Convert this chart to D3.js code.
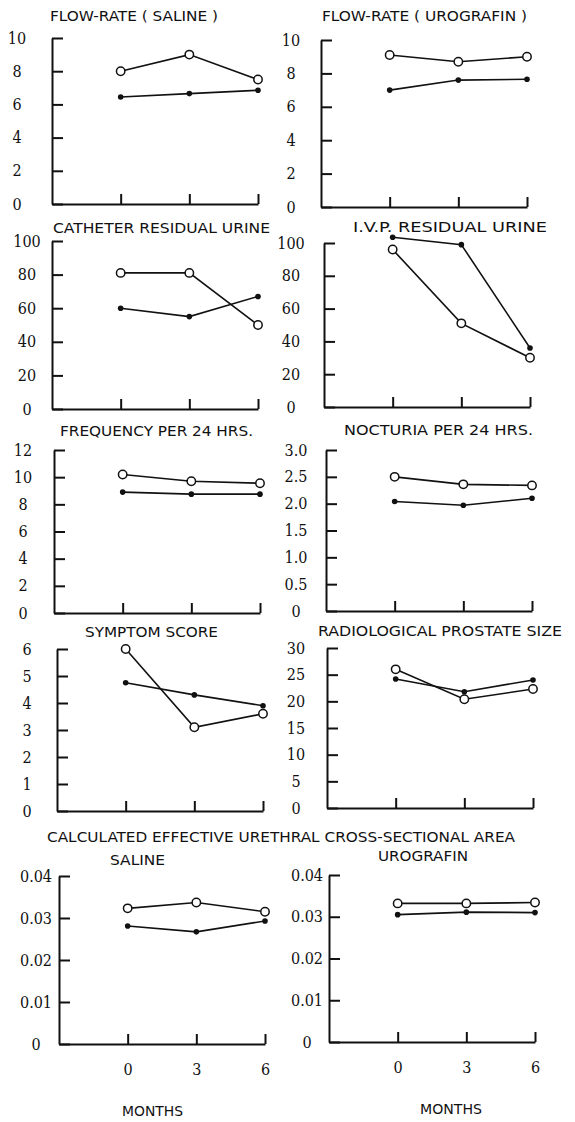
<!DOCTYPE html>
<html>
<head>
<meta charset="utf-8">
<script src="https://cdn.jsdelivr.net/npm/d3@7"></script>
<style>
body { margin:0; background:#fff; }
svg { display:block; }
.title { font-family:"DejaVu Sans Condensed","DejaVu Sans",sans-serif; font-size:14px; fill:#111; }
.months { font-family:"DejaVu Sans Condensed","DejaVu Sans",sans-serif; font-size:14px; fill:#111; }
.axis path, .axis line { stroke:#111; stroke-width:2; fill:none; }
.axis text { font-family:"DejaVu Serif Condensed","DejaVu Serif",serif; font-size:16px; fill:#111; }
.series { fill:none; stroke:#111; stroke-width:1.6; }
</style>
</head>
<body>
<svg id="chart" width="575" height="1122"></svg>
<script>
var months = [0, 3, 6];

// open circles / filled dots, one pair per panel
var flowSalineOpen    = [8.0, 9.0, 7.5];
var flowSalineFilled  = [6.45, 6.65, 6.85];
var flowUroOpen       = [9.1, 8.7, 9.0];
var flowUroFilled     = [7.0, 7.6, 7.65];
var catheterOpen      = [81, 81, 50];
var catheterFilled    = [60, 55, 67];
var ivpOpen           = [96, 51, 30];
var ivpFilled         = [103.5, 99, 36];
var frequencyOpen     = [10.2, 9.7, 9.55];
var frequencyFilled   = [8.9, 8.75, 8.75];
var nocturiaOpen      = [2.5, 2.36, 2.34];
var nocturiaFilled    = [2.04, 1.97, 2.1];
var symptomOpen       = [6.0, 3.1, 3.6];
var symptomFilled     = [4.75, 4.3, 3.9];
var prostateOpen      = [26, 20.4, 22.3];
var prostateFilled    = [24.2, 21.8, 24];
var areaSalineOpen    = [0.0323, 0.0337, 0.0315];
var areaSalineFilled  = [0.0281, 0.0267, 0.0293];
var areaUroOpen       = [0.0332, 0.0332, 0.0334];
var areaUroFilled     = [0.0305, 0.0311, 0.031];

// y tick values and their printed labels
var flowTicks       = [0, 2, 4, 6, 8, 10];
var flowLabels      = ["0", "2", "4", "6", "8", "10"];
var residualTicks   = [0, 20, 40, 60, 80, 100];
var residualLabels  = ["0", "20", "40", "60", "80", "100"];
var frequencyTicks  = [0, 2, 4, 6, 8, 10, 12];
var frequencyLabels = ["0", "2", "4", "6", "8", "10", "12"];
var nocturiaTicks   = [0, 0.5, 1, 1.5, 2, 2.5, 3];
var nocturiaLabels  = ["0", "0.5", "1.0", "1.5", "2.0", "2.5", "3.0"];
var symptomTicks    = [0, 1, 2, 3, 4, 5, 6];
var symptomLabels   = ["0", "1", "2", "3", "4", "5", "6"];
var prostateTicks   = [0, 5, 10, 15, 20, 25, 30];
var prostateLabels  = ["0", "5", "10", "15", "20", "25", "30"];
var areaTicks       = [0, 0.01, 0.02, 0.03, 0.04];
var areaLabels      = ["0", "0.01", "0.02", "0.03", "0.04"];

var titles = ["FLOW-RATE ( SALINE )", "FLOW-RATE ( UROGRAFIN )",
              "CATHETER RESIDUAL URINE", "I.V.P. RESIDUAL URINE",
              "FREQUENCY PER 24 HRS.", "NOCTURIA PER 24 HRS.",
              "SYMPTOM SCORE", "RADIOLOGICAL PROSTATE SIZE",
              "CALCULATED EFFECTIVE URETHRAL CROSS-SECTIONAL AREA",
              "SALINE", "UROGRAFIN"];
var xLabel = "MONTHS";

var panels = [
  {open:flowSalineOpen, filled:flowSalineFilled, ticks:flowTicks,      labels:flowLabels},
  {open:flowUroOpen,    filled:flowUroFilled,    ticks:flowTicks,      labels:flowLabels},
  {open:catheterOpen,   filled:catheterFilled,   ticks:residualTicks,  labels:residualLabels},
  {open:ivpOpen,        filled:ivpFilled,        ticks:residualTicks,  labels:residualLabels},
  {open:frequencyOpen,  filled:frequencyFilled,  ticks:frequencyTicks, labels:frequencyLabels},
  {open:nocturiaOpen,   filled:nocturiaFilled,   ticks:nocturiaTicks,  labels:nocturiaLabels},
  {open:symptomOpen,    filled:symptomFilled,    ticks:symptomTicks,   labels:symptomLabels},
  {open:prostateOpen,   filled:prostateFilled,   ticks:prostateTicks,  labels:prostateLabels},
  {open:areaSalineOpen, filled:areaSalineFilled, ticks:areaTicks,      labels:areaLabels},
  {open:areaUroOpen,    filled:areaUroFilled,    ticks:areaTicks,      labels:areaLabels}
];

// where each small plot sits on the page
var layout = [
  {x:52,  top:38,  bottom:204,  labelDx:35},
  {x:321, top:40,  bottom:207,  labelDx:30},
  {x:52,  top:241, bottom:409,  labelDx:25},
  {x:324, top:243, bottom:407,  labelDx:33},
  {x:54,  top:450, bottom:613,  labelDx:31},
  {x:326, top:450, bottom:611,  labelDx:30},
  {x:57,  top:649, bottom:811,  labelDx:30},
  {x:327, top:648, bottom:808,  labelDx:31},
  {x:59,  top:876, bottom:1044, labelDx:23},
  {x:329, top:875, bottom:1042, labelDx:22}
];
var plotWidth = 206;

var titleLayout = [
  {x:50,  y:21,  w:168}, {x:322, y:21,  w:205},
  {x:53,  y:233, w:217}, {x:353, y:232, w:194},
  {x:60,  y:436, w:193}, {x:344, y:435, w:189},
  {x:85,  y:637, w:133}, {x:318, y:636, w:244},
  {x:47,  y:842, w:468},
  {x:110, y:865, w:55},  {x:378, y:861, w:90}
];
var monthsLayout = [{x:122, y:1116, w:61}, {x:420, y:1114, w:62}];

var svg = d3.select("#chart");

titles.forEach(function(t, i) {
  var p = titleLayout[i];
  svg.append("text").attr("class", "title")
     .attr("x", p.x).attr("y", p.y)
     .attr("textLength", p.w).attr("lengthAdjust", "spacingAndGlyphs")
     .text(t);
});

monthsLayout.forEach(function(p) {
  svg.append("text").attr("class", "months")
     .attr("x", p.x).attr("y", p.y)
     .attr("textLength", p.w).attr("lengthAdjust", "spacingAndGlyphs")
     .text(xLabel);
});

panels.forEach(function(panel, i) {
  var L = layout[i];
  var maxY = panel.ticks[panel.ticks.length - 1];

  var x = d3.scaleLinear().domain([-3, 6]).range([L.x, L.x + plotWidth]);
  var y = d3.scaleLinear().domain([0, maxY]).range([L.bottom, L.top]);

  var bottomRow = i >= 8;

  var xAxis = d3.axisBottom(x).tickValues(months).tickSize(-10).tickSizeOuter(0)
                .tickPadding(20)
                .tickFormat(bottomRow ? function(d){ return d; } : "");
  var yAxis = d3.axisLeft(y).tickValues(panel.ticks).tickSize(-11).tickSizeOuter(0)
                .tickFormat(function(d, k){ return panel.labels[k]; });

  svg.append("g").attr("class", "axis")
     .attr("transform", "translate(0," + L.bottom + ")").call(xAxis);

  var gy = svg.append("g").attr("class", "axis")
     .attr("transform", "translate(" + L.x + ",0)").call(yAxis);
  gy.selectAll("text").attr("x", -L.labelDx).attr("text-anchor", "middle");

  var line = d3.line().x(function(d, k){ return x(months[k]); })
                      .y(function(d){ return y(d); });

  svg.append("path").attr("class", "series").attr("d", line(panel.filled));
  svg.append("path").attr("class", "series").attr("d", line(panel.open));

  svg.selectAll(null).data(panel.filled).enter().append("circle")
     .attr("cx", function(d, k){ return x(months[k]); })
     .attr("cy", function(d){ return y(d); })
     .attr("r", 2.8).attr("fill", "#111");

  svg.selectAll(null).data(panel.open).enter().append("circle")
     .attr("cx", function(d, k){ return x(months[k]); })
     .attr("cy", function(d){ return y(d); })
     .attr("r", 4.2).attr("fill", "#fff").attr("stroke", "#111").attr("stroke-width", 1.5);
});
</script>
</body>
</html>
